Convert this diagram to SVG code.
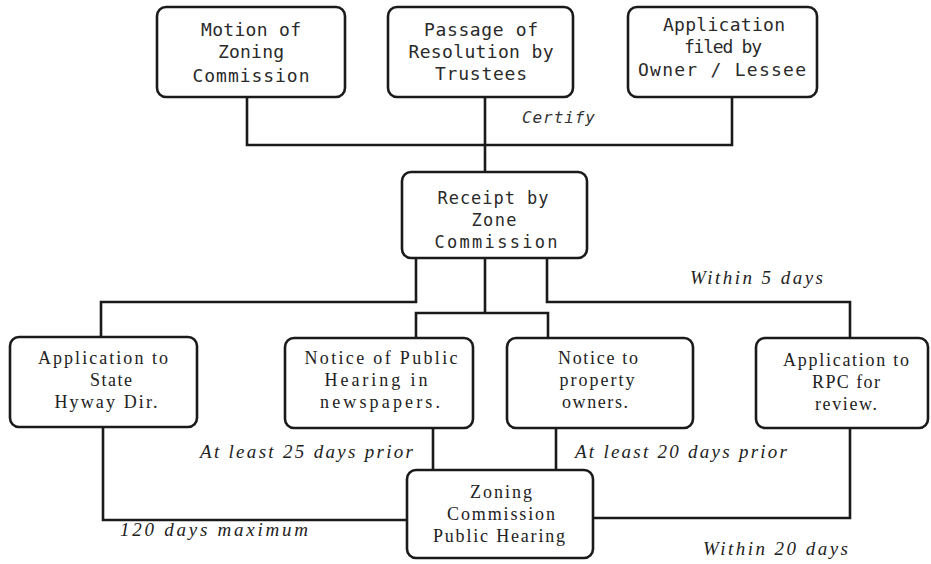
<svg xmlns="http://www.w3.org/2000/svg" width="931" height="564" viewBox="0 0 931 564">
<style>
.box{fill:#fff;stroke:#1a1a1a;stroke-width:2.6}
.ln{fill:none;stroke:#1a1a1a;stroke-width:2.6}
.t1{font-family:"DejaVu Sans Mono",monospace;font-size:18px;fill:#2a2a2a;text-anchor:middle}
.t2{font-family:"DejaVu Sans Mono",monospace;font-size:17px;fill:#2a2a2a;text-anchor:middle}
.t3{font-family:"Liberation Serif",serif;font-size:18px;fill:#222;text-anchor:middle}
.lb{font-family:"Liberation Serif",serif;font-style:italic;font-size:19px;fill:#222}
.lbs{font-family:"DejaVu Sans Mono",monospace;font-style:italic;font-size:16px;fill:#333}
</style>
<rect width="931" height="564" fill="#fff"/>
<g id="connectors">
<path class="ln" d="M247 97V145H732V97"/>
<path class="ln" d="M485 97V172"/>
<path class="ln" d="M416 258V302H101V337"/>
<path class="ln" d="M547 258V302H850V338"/>
<path class="ln" d="M485 258V313"/>
<path class="ln" d="M416 338V313H548V338"/>
<path class="ln" d="M103 427V520H407"/>
<path class="ln" d="M433 428V470"/>
<path class="ln" d="M556 428V470"/>
<path class="ln" d="M850 428V518H593"/>
</g>
<g id="labels">
<text class="lbs" x="522" y="123" textLength="73">Certify</text>
<text class="lb" x="690" y="284" textLength="133">Within 5 days</text>
<text class="lb" x="200" y="458" textLength="213">At least 25 days prior</text>
<text class="lb" x="575" y="458" textLength="212">At least 20 days prior</text>
<text class="lb" x="120" y="536" textLength="188">120 days maximum</text>
<text class="lb" x="703" y="555" textLength="145">Within 20 days</text>
</g>
<g id="motion">
<rect class="box" x="157" y="7" width="188" height="90" rx="9"/>
<text class="t1" x="251" y="36" textLength="100">Motion of</text>
<text class="t1" x="251" y="58" textLength="66">Zoning</text>
<text class="t1" x="251" y="82" textLength="117">Commission</text>
</g>
<g id="passage">
<rect class="box" x="388" y="7" width="185" height="90" rx="9"/>
<text class="t1" x="481" y="36" textLength="114">Passage of</text>
<text class="t1" x="481" y="58" textLength="145">Resolution by</text>
<text class="t1" x="481" y="80" textLength="92">Trustees</text>
</g>
<g id="application">
<rect class="box" x="628" y="7" width="189" height="90" rx="9"/>
<text class="t1" x="724" y="31" textLength="122">Application</text>
<text class="t1" x="723" y="53" textLength="78">filed by</text>
<text class="t1" x="722" y="76" textLength="168">Owner / Lessee</text>
</g>
<g id="receipt">
<rect class="box" x="402" y="172" width="185" height="86" rx="9"/>
<text class="t2" x="493" y="204" textLength="111">Receipt by</text>
<text class="t2" x="494" y="226" textLength="45">Zone</text>
<text class="t2" x="496" y="248" textLength="123">Commission</text>
</g>
<g id="state">
<rect class="box" x="10" y="337" width="187" height="90" rx="9"/>
<text class="t3" x="103" y="364" textLength="130">Application to</text>
<text class="t3" x="111" y="386" textLength="42">State</text>
<text class="t3" x="106" y="408" textLength="103">Hyway Dir.</text>
</g>
<g id="newspaper">
<rect class="box" x="285" y="338" width="188" height="90" rx="9"/>
<text class="t3" x="381" y="364" textLength="153">Notice of Public</text>
<text class="t3" x="376" y="386" textLength="103">Hearing in</text>
<text class="t3" x="380" y="408" textLength="120">newspapers.</text>
</g>
<g id="owners">
<rect class="box" x="507" y="338" width="186" height="90" rx="9"/>
<text class="t3" x="598" y="364" textLength="80">Notice to</text>
<text class="t3" x="597" y="386" textLength="75">property</text>
<text class="t3" x="595" y="408" textLength="66">owners.</text>
</g>
<g id="rpc">
<rect class="box" x="756" y="338" width="172" height="90" rx="9"/>
<text class="t3" x="846" y="366" textLength="126">Application to</text>
<text class="t3" x="846" y="388" textLength="68">RPC for</text>
<text class="t3" x="846" y="410" textLength="62">review.</text>
</g>
<g id="hearing">
<rect class="box" x="407" y="470" width="186" height="88" rx="9"/>
<text class="t3" x="501" y="498" textLength="62">Zoning</text>
<text class="t3" x="501" y="520" textLength="108">Commission</text>
<text class="t3" x="499" y="542" textLength="132">Public Hearing</text>
</g>
</svg>
